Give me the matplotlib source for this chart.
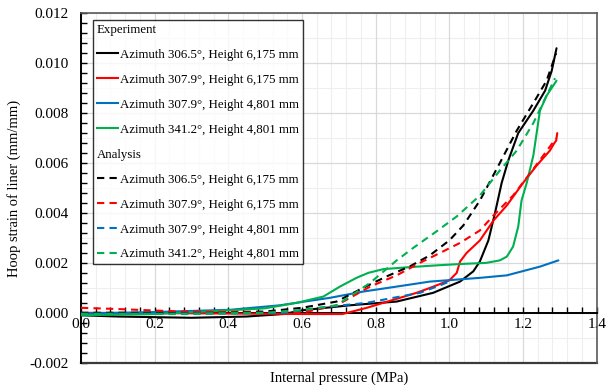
import matplotlib
matplotlib.use("Agg")
import matplotlib.pyplot as plt
from matplotlib.lines import Line2D
from matplotlib.ticker import MultipleLocator, FormatStrFormatter
import numpy as np

plt.rcParams['font.family'] = ['Liberation Serif', 'DejaVu Serif']

# ---- data ----
black_exp_p = [0.0, 0.1, 0.3, 0.45, 0.55, 0.6, 0.73, 0.857, 0.956, 1.029, 1.065, 1.083, 1.106, 1.124,
               1.142, 1.160, 1.187, 1.228, 1.260, 1.278, 1.291]
black_exp_s = [-0.0001, -0.00015, -0.0002, -0.00015, -0.00005, 0.0001, 0.0003, 0.00045, 0.0008, 0.00125,
               0.00166, 0.00206, 0.0029, 0.004, 0.0052, 0.0061, 0.0072, 0.0081, 0.0089, 0.0097, 0.0106]

red_exp_p = [0.0, 0.3, 0.6, 0.71, 0.776, 0.821, 0.866, 0.911, 0.957, 1.0, 1.02, 1.029, 1.047, 1.083,
             1.12, 1.156, 1.2, 1.237, 1.273, 1.285, 1.29, 1.293]
red_exp_s = [0.0, -0.00002, -0.00005, -0.00005, 0.0002, 0.0004, 0.0006, 0.0008, 0.00105, 0.0013, 0.0016,
             0.00205, 0.0024, 0.0029, 0.0037, 0.0043, 0.0052, 0.0059, 0.0065, 0.0068, 0.0069, 0.0072]

blue_exp_p = [0.0, 0.2, 0.405, 0.54, 0.63, 0.676, 0.766, 0.857, 0.947, 1.038, 1.083, 1.156, 1.246, 1.296]
blue_exp_s = [-0.00003, 0.00003, 0.00012, 0.0003, 0.0005, 0.0006, 0.00085, 0.00105, 0.00125, 0.00135,
              0.0014, 0.0015, 0.00185, 0.0021]

green_exp_p = [0.0, 0.2, 0.405, 0.5, 0.586, 0.658, 0.703, 0.748, 0.78, 0.821, 0.893, 0.965, 1.038, 1.1,
               1.137, 1.156, 1.173, 1.187, 1.196, 1.21, 1.228, 1.246, 1.264, 1.291]
green_exp_s = [-0.0001, -0.00005, 0.0001, 0.00018, 0.0004, 0.00065, 0.00105, 0.0014, 0.0016, 0.00175,
               0.00183, 0.0019, 0.00196, 0.002, 0.0021, 0.00225, 0.00265, 0.00345, 0.0045, 0.0052,
               0.0063, 0.0081, 0.0087, 0.0093]

black_ana_p = [0.0, 0.3, 0.5, 0.6, 0.694, 0.766, 0.83, 0.893, 0.947, 1.0, 1.038, 1.083, 1.137, 1.183,
               1.228, 1.264, 1.29]
black_ana_s = [0.0, 0.0, 0.00005, 0.0002, 0.00045, 0.001, 0.00146, 0.00186, 0.0023, 0.0029, 0.0035,
               0.0045, 0.006, 0.0073, 0.0084, 0.0093, 0.0104]

red_ana_p = [0.0, 0.1, 0.27, 0.5, 0.6, 0.694, 0.785, 0.857, 0.92, 0.975, 1.029, 1.083, 1.12, 1.173,
             1.23, 1.29]
red_ana_s = [0.0002, 0.00015, 0.00005, 0.0, 0.0, 0.0003, 0.00105, 0.0015, 0.002, 0.0024, 0.0028, 0.0033,
             0.0039, 0.0047, 0.0058, 0.007]

blue_ana_p = [0.0, 0.3, 0.55, 0.621, 0.676, 0.776, 0.866, 0.92, 0.975, 1.0]
blue_ana_s = [-0.00003, -0.00003, 0.0, 0.00015, 0.00025, 0.0004, 0.00065, 0.0008, 0.0011, 0.00125]

green_ana_p = [0.0, 0.3, 0.5, 0.6, 0.694, 0.785, 0.857, 0.902, 0.965, 1.02, 1.083, 1.137, 1.183,
               1.228, 1.264, 1.287]
green_ana_s = [-0.00005, -0.00005, 0.0, 0.0001, 0.0003, 0.0012, 0.0021, 0.0026, 0.00326, 0.00386,
               0.0047, 0.0057, 0.0065, 0.0076, 0.0087, 0.0094]

labels = ["Azimuth 306.5°, Height 6,175 mm",
          "Azimuth 307.9°, Height 6,175 mm",
          "Azimuth 307.9°, Height 4,801 mm",
          "Azimuth 341.2°, Height 4,801 mm"]
colors = ["#000000", "#ff0000", "#0070c0", "#00b050"]

exp_series = [(black_exp_p, black_exp_s), (red_exp_p, red_exp_s),
              (blue_exp_p, blue_exp_s), (green_exp_p, green_exp_s)]
ana_series = [(black_ana_p, black_ana_s), (red_ana_p, red_ana_s),
              (blue_ana_p, blue_ana_s), (green_ana_p, green_ana_s)]

# ---- figure ----
fig = plt.figure(figsize=(6.07, 3.88), dpi=100)
ax = fig.add_axes([0.1334, 0.0652, 0.983 - 0.1334, 0.9657 - 0.0652])

ax.set_xlim(0, 1.4)
ax.set_ylim(-0.002, 0.012)

# grid
for yv in np.arange(-0.002, 0.0121, 0.001):
    if abs(round(yv / 0.002) * 0.002 - yv) > 1e-9:
        ax.axhline(yv, color="#eeeeee", lw=0.8, zorder=0)
ax.xaxis.set_minor_locator(MultipleLocator(0.04))
ax.yaxis.set_minor_locator(MultipleLocator(0.0004))
ax.xaxis.set_major_locator(MultipleLocator(0.2))
ax.yaxis.set_major_locator(MultipleLocator(0.002))
ax.grid(which="major", color="#d9d9d9", lw=0.9, zorder=0)
ax.grid(which="minor", axis="x", color="#eeeeee", lw=0.8, zorder=0)
ax.set_axisbelow(True)

lw = 1.5
for (p, s), c in zip(exp_series, colors):
    ax.plot(p, s, color=c, lw=lw, solid_capstyle="round", zorder=3)
for (p, s), c in zip(ana_series, colors):
    ax.plot(p, s, color=c, lw=lw, linestyle=(0, (3.5, 2.5)), zorder=3)

# spines / frame
ax.spines["bottom"].set_position(("data", 0))
ax.spines["bottom"].set_color("black")
ax.spines["bottom"].set_linewidth(1.4)
ax.spines["left"].set_color("black")
ax.spines["left"].set_linewidth(1.4)
for sp in ["top", "right"]:
    ax.spines[sp].set_color("#5a5a5a")
    ax.spines[sp].set_linewidth(1.2)
frame_bottom = Line2D([0, 1], [0, 0], transform=ax.transAxes, color="#3a3a3a", lw=1.6, clip_on=False)
ax.add_line(frame_bottom)

ax.tick_params(axis="x", which="both", direction="in", length=4, width=1, pad=4, labelsize=11)
ax.tick_params(axis="y", which="both", direction="in", length=4, width=1, pad=9, labelsize=11)
ax.xaxis.set_major_formatter(FormatStrFormatter("%.1f"))
ax.yaxis.set_major_formatter(FormatStrFormatter("%.3f"))

ax.set_xlabel("Internal pressure (MPa)", fontsize=10.5, labelpad=0)
ax.xaxis.set_label_coords(0.5, -0.025, transform=ax.transAxes)
ax.set_ylabel("Hoop strain of liner (mm/mm)", fontsize=10.5, labelpad=6)

# legend
handles = [Line2D([], [], color="none")]
leg_labels = ["Experiment"]
for c, l in zip(colors, labels):
    handles.append(Line2D([], [], color=c, lw=lw))
    leg_labels.append(l)
handles.append(Line2D([], [], color="none"))
leg_labels.append("Analysis")
for c, l in zip(colors, labels):
    handles.append(Line2D([], [], color=c, lw=lw, linestyle=(0, (3.5, 2.5))))
    leg_labels.append(l)

leg = ax.legend(handles, leg_labels, loc="upper left", bbox_to_anchor=(0.0233, 0.981),
                borderaxespad=0, fontsize=9.3, frameon=True, fancybox=False,
                edgecolor="black", handlelength=1.6, handletextpad=0.2,
                labelspacing=1.0, borderpad=0.3)
leg.get_frame().set_linewidth(1.0)
leg.set_zorder(5)
# remove handle space for header rows
hpacks = leg._legend_handle_box.get_children()[0].get_children()
for idx in (0, 5):
    hpacks[idx].get_children()[0].set_width(0)
    hpacks[idx].sep = 0

fig.savefig("out.png", dpi=100)
